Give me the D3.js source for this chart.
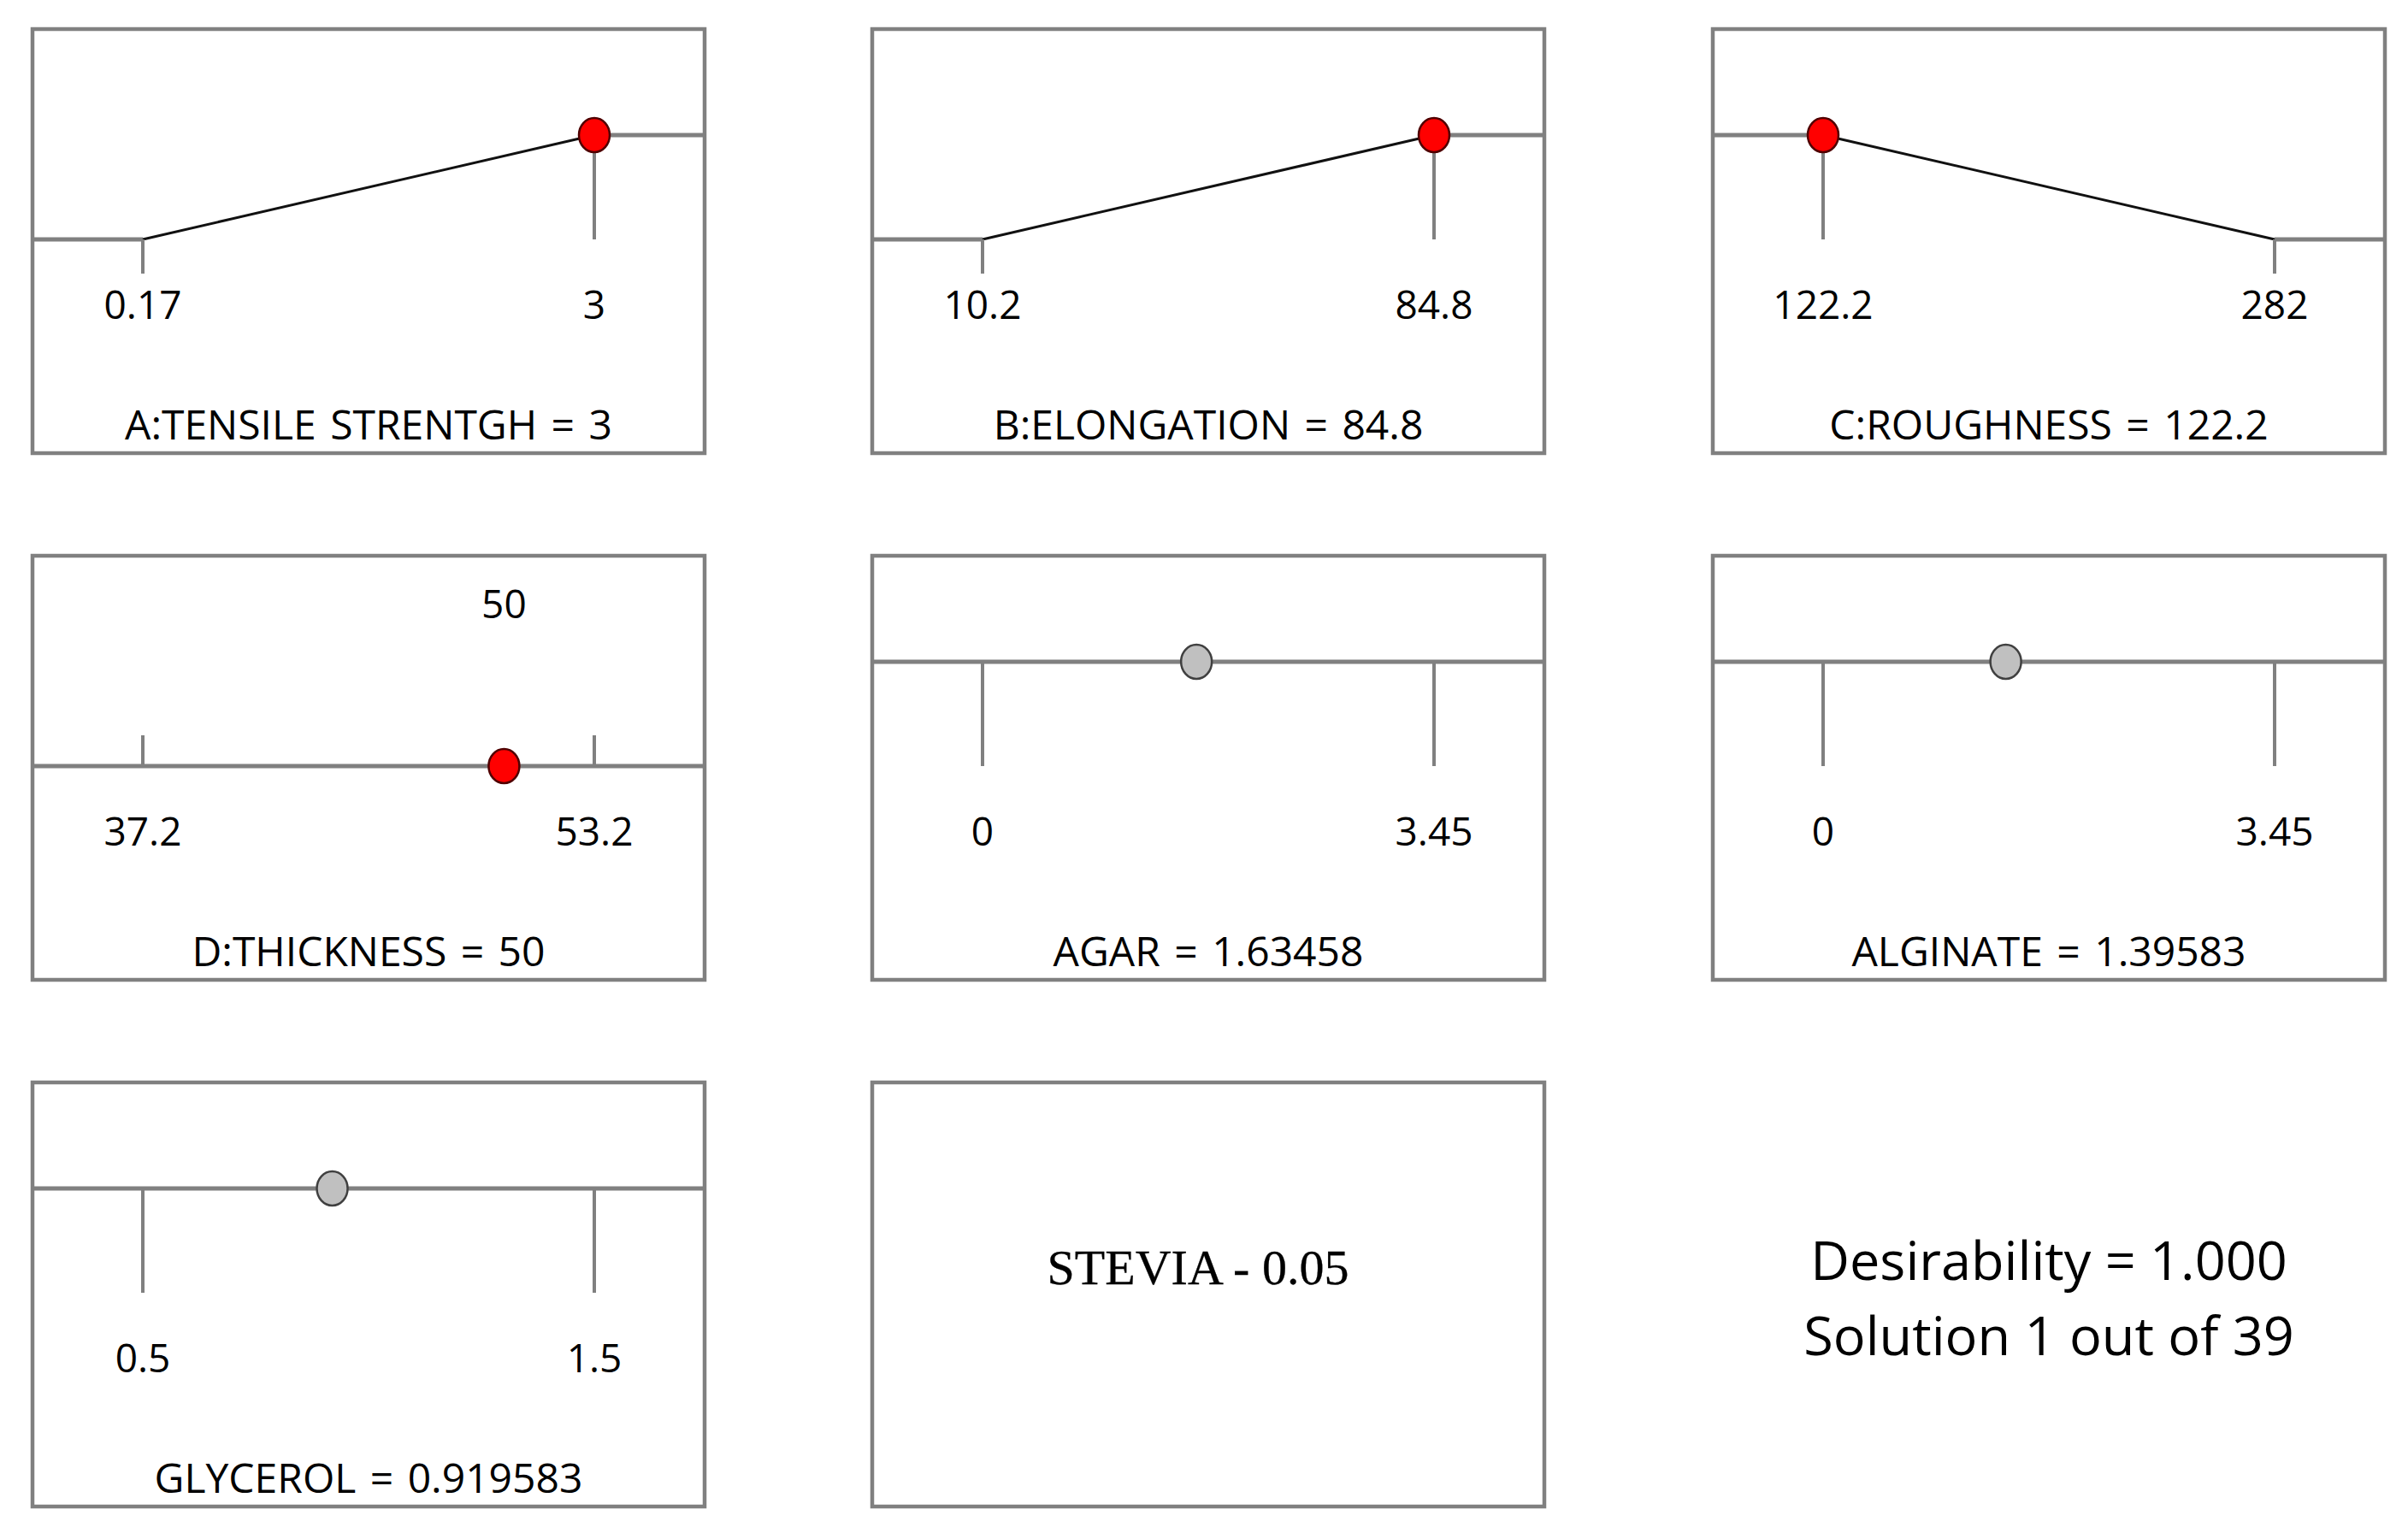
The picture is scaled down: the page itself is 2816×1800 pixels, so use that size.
<!DOCTYPE html>
<html>
<head>
<meta charset="utf-8">
<script src="https://cdn.jsdelivr.net/npm/d3@7"></script>
<style>
  body { margin: 0; background: #fff; }
  text { font-family: "Segoe UI", "Open Sans", sans-serif; fill: #000; }
</style>
</head>
<body>
<svg class="ramp_chart" width="2816" height="1800"></svg>
<script>
// factor / response names, as printed under each ramp
var names = ["A:TENSILE STRENTGH", "B:ELONGATION", "C:ROUGHNESS", "D:THICKNESS",
             "AGAR", "ALGINATE", "GLYCEROL"];
var lows = [0.17, 10.2, 122.2, 37.2, 0, 0, 0.5];
var highs = [3, 84.8, 282, 53.2, 3.45, 3.45, 1.5];
var lowLabels = ["0.17", "10.2", "122.2", "37.2", "0", "0", "0.5"];
var highLabels = ["3", "84.8", "282", "53.2", "3.45", "3.45", "1.5"];
var values = [3, 84.8, 122.2, 50, 1.63458, 1.39583, 0.919583];
var valueLabels = ["3", "84.8", "122.2", "50", "1.63458", "1.39583", "0.919583"];
var goals = ["maximize", "maximize", "minimize", "target", "range", "range", "range"];
var targetLabel = "50";

var steviaText = "STEVIA - 0.05";
var desirability = "1.000";
var solution = 1, solutionsTotal = 39;

var svg = d3.select(".ramp_chart");

var panelW = 786, panelH = 496;
var colX = [38, 1020, 2003], rowY = [34, 650, 1266];

var xScale = d3.scaleLinear().range([129, 657]);
var yScale = d3.scaleLinear().domain([0, 1]).range([246, 124]);

var gray = "#808080";

function panel(col, row) {
    var g = svg.append("g")
        .attr("transform", "translate(" + colX[col] + "," + rowY[row] + ")");
    g.append("rect")
        .attr("width", panelW).attr("height", panelH)
        .attr("fill", "none").attr("stroke", gray).attr("stroke-width", 4.5);
    return g;
}

names.forEach(function (name, i) {
    var col = i % 3, row = Math.floor(i / 3);
    var g = panel(col, row);
    var goal = goals[i];
    xScale.domain([lows[i], highs[i]]);

    // desirability at low / high end
    var dLow = 0, dHigh = 0;
    if (goal == "maximize") { dLow = 0; dHigh = 1; }
    if (goal == "minimize") { dLow = 1; dHigh = 0; }
    if (goal == "range") { dLow = 1; dHigh = 1; }

    var x0 = xScale(lows[i]), x1 = xScale(highs[i]);

    // flat parts
    g.append("line")
        .attr("x1", 0).attr("x2", x0)
        .attr("y1", yScale(dLow)).attr("y2", yScale(dLow))
        .attr("stroke", gray).attr("stroke-width", 5);
    g.append("line")
        .attr("x1", x1).attr("x2", panelW)
        .attr("y1", yScale(dHigh)).attr("y2", yScale(dHigh))
        .attr("stroke", gray).attr("stroke-width", 5);
    // ramp
    g.append("line")
        .attr("x1", x0).attr("x2", x1)
        .attr("y1", yScale(dLow)).attr("y2", yScale(dHigh))
        .attr("stroke", dLow == dHigh ? gray : "#111")
        .attr("stroke-width", dLow == dHigh ? 5 : 3);

    // ticks
    [[lows[i], dLow, lowLabels[i]], [highs[i], dHigh, highLabels[i]]].forEach(function (t) {
        var x = xScale(t[0]);
        var yEnd = t[1] == 1 ? yScale(0) : (goal == "target" ? yScale(0) - 36 : yScale(0) + 40);
        g.append("line")
            .attr("x1", x).attr("x2", x)
            .attr("y1", yScale(t[1])).attr("y2", yEnd)
            .attr("stroke", gray).attr("stroke-width", 4);
        g.append("text")
            .attr("x", x).attr("y", 339)
            .attr("text-anchor", "middle")
            .attr("font-size", 46)
            .text(t[2]);
    });

    if (goal == "target") {
        g.append("text")
            .attr("x", xScale(values[i])).attr("y", 73)
            .attr("text-anchor", "middle")
            .attr("font-size", 46)
            .text(targetLabel);
    }

    // current solution point
    var dv = goal == "target" ? 0 : 1;
    g.append("ellipse")
        .attr("cx", xScale(values[i])).attr("cy", yScale(dv))
        .attr("rx", 18).attr("ry", 20)
        .attr("fill", goal == "range" ? "#c0c0c0" : "#ff0000")
        .attr("stroke", goal == "range" ? "#404040" : "#500000")
        .attr("stroke-width", 2.5);

    g.append("text")
        .attr("x", panelW / 2).attr("y", 480)
        .attr("text-anchor", "middle")
        .attr("font-size", 48)
        .attr("word-spacing", 4)
        .text(name + " = " + valueLabels[i]);
});

// STEVIA box
var sg = panel(1, 2);
sg.append("text")
    .attr("x", panelW / 2 - 12).attr("y", 236)
    .attr("text-anchor", "middle")
    .attr("font-size", 58)
    .attr("stroke", "#000").attr("stroke-width", 0.3)
    .style("font-family", "'Liberation Serif', 'Times New Roman', serif")
    .text(steviaText);

// desirability summary
svg.append("text")
    .attr("x", colX[2] + panelW / 2).attr("y", 1497)
    .attr("text-anchor", "middle")
    .attr("font-size", 63)
    .text("Desirability = " + desirability);
svg.append("text")
    .attr("x", colX[2] + panelW / 2).attr("y", 1585)
    .attr("text-anchor", "middle")
    .attr("font-size", 63)
    .text("Solution " + solution + " out of " + solutionsTotal);
</script>
</body>
</html>
